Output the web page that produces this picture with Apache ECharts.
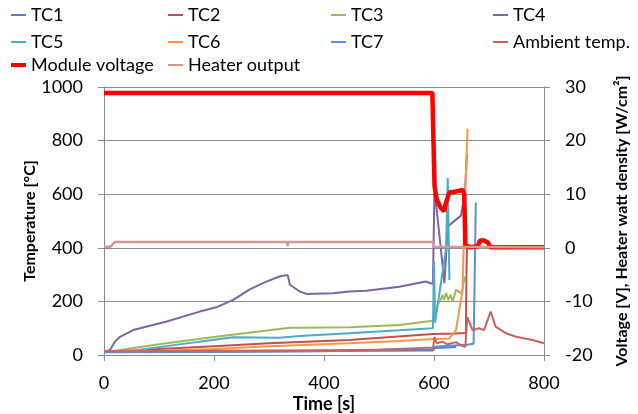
<!DOCTYPE html>
<html>
<head>
<meta charset="utf-8">
<script src="https://cdn.jsdelivr.net/npm/echarts@6/dist/echarts.min.js"></script>
<style>
html,body{margin:0;padding:0;background:#fff;}
#c{width:638px;height:414px;}
</style>
</head>
<body>
<div id="c"></div>
<script>
// ---- data: [time s, value] ----
var tc1 = [[0,12],[100,12],[200,13],[300,14],[400,15],[500,16],[598,17],[602,26],[640,30]];
var tc2 = [[0,14],[50,16],[100,22],[200,33],[300,44],[446,56],[598,78],[640,80],[658,82],[659,300],[660,410]];
var tc3 = [[0,14],[17,15],[100,40],[200,67],[300,92],[338,102],[360,102],[446,104],[537,112],[598,128],[600,131],[605,181],[612,206],[615,224],[618,205],[622,231],[626,205],[630,225],[634,200],[640,243],[650,230],[656,293]];
var tc4 = [[0,12],[11,19],[20,50],[29,68],[53,93],[114,125],[174,162],[204,178],[235,206],[265,245],[295,274],[319,293],[334,299],[338,262],[356,237],[368,228],[416,230],[446,237],[477,240],[537,255],[585,274],[598,265],[601,630],[604,560],[619,268],[625,480],[649,520],[656,600],[660,750]];
var tc5 = [[0,14],[59,18],[120,35],[235,66],[319,64],[356,71],[446,81],[537,92],[598,100],[600,350],[602,120],[622,400],[625,660],[628,280]];
var tc6 = [[0,14],[100,16],[200,22],[300,33],[446,44],[537,52],[598,60],[628,62],[640,93],[652,243],[655,500],[661,845]];
var tc7 = [[0,10],[200,11],[400,14],[500,20],[598,28],[605,32],[660,38],[672,42],[674,300],[676,568]];
var ambient = [[0,14],[200,16],[400,18],[598,21],[601,68],[605,44],[615,50],[625,40],[640,48],[650,35],[657,31],[659,100],[661,140],[670,93],[682,100],[691,93],[703,162],[712,106],[731,81],[749,68],[779,56],[800,44]];
var voltage = [[0,28.9],[597,28.9],[599,20],[601,11.5],[605,9],[612,7.5],[618,6.8],[622,8.5],[628,10.3],[640,10.5],[652,10.8],[655,10],[657,0.5],[665,0.1],[680,0.3],[683,1.3],[690,1.4],[698,1],[702,0.1],[800,0.1]];
var heater = [[0,0.2],[12,0.2],[20,1.1],[333,1.1],[334,0.3],[335,1.1],[598,1.1],[600,0.2],[603,0.1],[800,0.1]];

var xTicks = {min:0, max:800, interval:200};
var yLeft = {min:0, max:1000, interval:200};
var yRight = {min:-20, max:30, interval:10};

var names = ['TC1','TC2','TC3','TC4','TC5','TC6','TC7','Ambient temp.','Module voltage','Heater output'];
var colors = ['#4F81BD','#C0504D','#9BBB59','#8064A2','#4BACC6','#F79646','#5B8FD6','#D0605C','#FF0000','#D99694'];
var datasets = [tc1,tc2,tc3,tc4,tc5,tc6,tc7,ambient,voltage,heater];

var font = 'Lato';
var colX = [11,168,331,493];
var rowY = [6,33,56];
var legendPos = [
  [colX[0],rowY[0]],[colX[1],rowY[0]],[colX[2],rowY[0]],[colX[3],rowY[0]],
  [colX[0],rowY[1]],[colX[1],rowY[1]],[colX[2],rowY[1]],[colX[3],rowY[1]],
  [colX[0],rowY[2]],[colX[1],rowY[2]]
];
var legends = names.map(function(n,i){
  return {
    data:[n], left:legendPos[i][0], top:legendPos[i][1], padding:0,
    icon:'rect', itemWidth:15, itemHeight:(i===8?4:2),
    textStyle:{fontFamily:font,fontSize:18,color:'#000'},
    selectedMode:false
  };
});

var series = names.map(function(n,i){
  return {
    name:n, type:'line', data:datasets[i],
    yAxisIndex:(i>=8?1:0),
    showSymbol:false, symbol:'none',
    color:colors[i],
    lineStyle:{width:(i===8?4.5:(i===9?2.5:2)), color:colors[i]},
    itemStyle:{color:colors[i]},
    animation:false
  };
});

var plain = function(v){ return String(v); };
var axisCol = '#8c8c8c';
var chart = echarts.init(document.getElementById('c'), null, {renderer:'canvas'});
chart.setOption({
  backgroundColor:'#fff',
  animation:false,
  legend:legends,
  grid:{left:104, right:94, top:87, bottom:59, containLabel:false, outerBoundsMode:'none'},
  xAxis:{
    type:'value', min:xTicks.min, max:xTicks.max, interval:xTicks.interval,
    name:'Time [s]', nameLocation:'middle', nameGap:40, nameMoveOverlap:false,
    nameTextStyle:{fontFamily:font,fontSize:18,fontWeight:'bold',color:'#000'},
    axisLine:{show:true,lineStyle:{color:axisCol}},
    axisTick:{show:true,length:6,lineStyle:{color:axisCol}},
    axisLabel:{fontFamily:font,fontSize:18,color:'#000',margin:19,formatter:plain},
    splitLine:{show:false}
  },
  yAxis:[{
    type:'value', min:yLeft.min, max:yLeft.max, interval:yLeft.interval,
    name:'Temperature [°C]', nameLocation:'middle', nameGap:66, nameRotate:90, nameMoveOverlap:false,
    nameTextStyle:{fontFamily:font,fontSize:16,fontWeight:'bold',color:'#000'},
    axisLine:{show:true,lineStyle:{color:axisCol}},
    axisTick:{show:true,length:6,lineStyle:{color:axisCol}},
    axisLabel:{fontFamily:font,fontSize:18,color:'#000',margin:21,formatter:plain},
    splitLine:{show:true,lineStyle:{color:axisCol,width:1}}
  },{
    type:'value', min:yRight.min, max:yRight.max, interval:yRight.interval,
    position:'right',
    name:'Voltage [V], Heater watt density [W/cm²]', nameLocation:'middle', nameGap:70, nameRotate:90, nameMoveOverlap:false,
    nameTextStyle:{fontFamily:font,fontSize:16,fontWeight:'bold',color:'#000'},
    axisLine:{show:true,lineStyle:{color:axisCol}},
    axisTick:{show:true,length:6,lineStyle:{color:axisCol}},
    axisLabel:{fontFamily:font,fontSize:18,color:'#000',margin:21,formatter:plain},
    splitLine:{show:false}
  }],
  series:series
});
</script>
</body>
</html>
